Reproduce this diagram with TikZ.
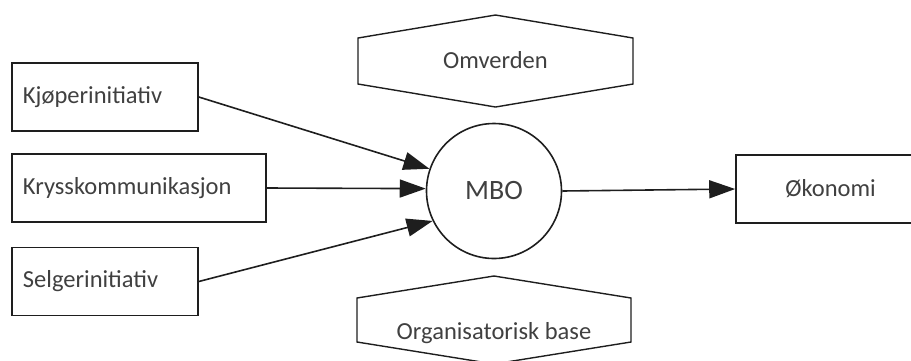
\documentclass[tikz,border=0pt]{standalone}
\usepackage{fontspec}
\setmainfont{Carlito}
\usetikzlibrary{arrows.meta}
\definecolor{inkgray}{RGB}{64,64,64}
\definecolor{linedark}{RGB}{30,30,30}

\begin{document}
\begin{tikzpicture}[x=1pt,y=-1pt,
  factor/.style={rectangle,draw=linedark,line width=1.6pt,text=inkgray,
        font=\fontsize{24.5}{29}\selectfont,minimum height=68pt,inner xsep=11pt,align=left},
  hub/.style={circle,draw=linedark,line width=1.6pt,text=inkgray,
        font=\fontsize{28}{33}\selectfont,minimum size=135pt,inner sep=0pt},
  caption/.style={text=inkgray,font=\fontsize{24.5}{29}\selectfont,anchor=base},
  hexline/.style={draw=linedark,line width=1.4pt,line join=miter},
  arrow/.style={-{Triangle[length=26pt,width=18pt]},linedark,line width=1.6pt}
]
\useasboundingbox (0,0) rectangle (911,360);
\clip (0,0) rectangle (911,360);
\node[factor,text width=164pt] (kjoper) at (105,97) {Kjøperinitiativ};
\node[factor,text width=232pt] (kryss) at (139,188) {Krysskommunikasjon};
\node[factor,text width=164pt] (selger) at (105,281.5) {Selgerinitiativ};
\node[hub] (mbo) at (494,191) {MBO};
\node[factor,text width=167pt,align=center] (okonomi) at (830.5,189) {Økonomi};
% hexagons above and below the hub
\draw[hexline] (358,38) -- (495.5,15) -- (633,38) -- (633,84) -- (495.5,107) -- (358,84) -- cycle;
\node[caption] (omverden) at (495.5,68) {Omverden};
\draw[hexline] (357,298) -- (494,276) -- (631,298) -- (631,342) -- (494,364) -- (357,342) -- cycle;
\node[caption] (orgbase) at (494,339) {Organisatorisk base};
\draw[arrow] (kjoper.east) -- (mbo.161);
\draw[arrow] (kryss.east) -- (mbo.178);
\draw[arrow] (selger.east) -- (mbo.206);
\draw[arrow] (mbo.east) -- (okonomi.west);
\end{tikzpicture}
\end{document}
